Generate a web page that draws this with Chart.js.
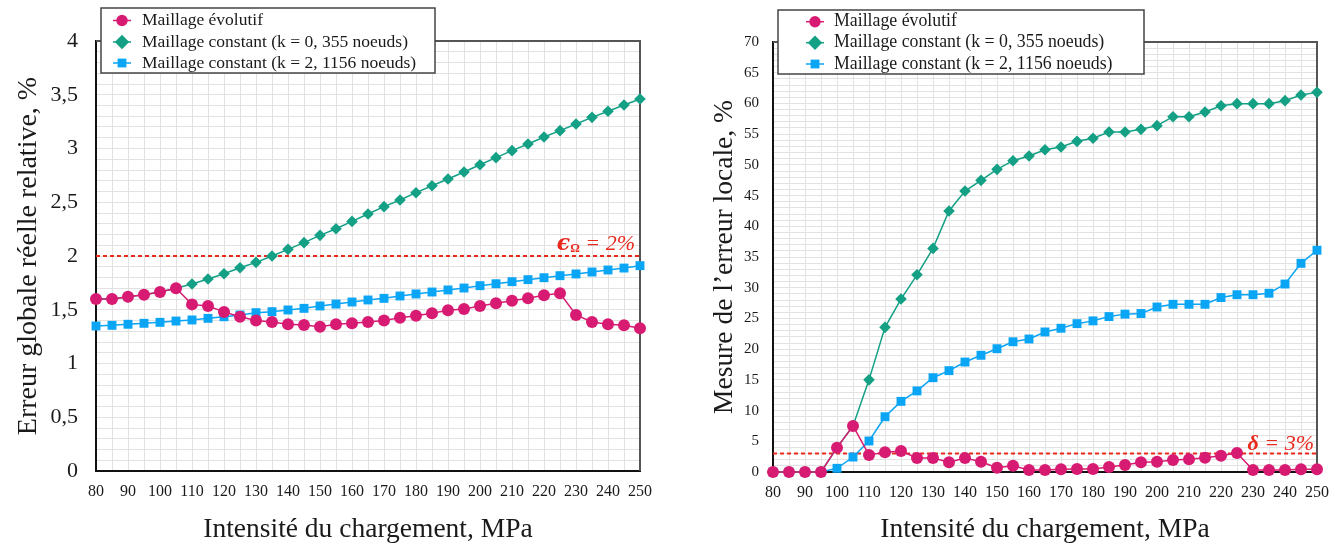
<!DOCTYPE html>
<html><head><meta charset="utf-8">
<script src="https://cdn.jsdelivr.net/npm/chart.js@4.4.1/dist/chart.umd.min.js"></script>
<style>
html,body{margin:0;padding:0;background:#fff;}
#wrap{position:relative;width:1341px;height:547px;overflow:hidden;}
canvas{position:absolute;top:0;}
</style></head><body>
<div id="wrap">
<canvas id="c1" width="670" height="547" style="left:0"></canvas>
<canvas id="c2" width="671" height="547" style="left:670px"></canvas>
</div>
<script>
// ---------- data ----------
const pressures = [80,85,90,95,100,105,110,115,120,125,130,135,140,145,150,155,160,165,170,175,180,185,190,195,200,205,210,215,220,225,230,235,240,245,250];

const seriesLabels = ['Maillage évolutif', 'Maillage constant (k = 0, 355 noeuds)', 'Maillage constant (k = 2, 1156 noeuds)'];

// left panel: erreur globale réelle relative (%)
const globalEvolutif = [1.60,1.60,1.62,1.64,1.665,1.70,1.55,1.535,1.48,1.435,1.40,1.385,1.365,1.358,1.342,1.365,1.374,1.386,1.40,1.426,1.445,1.467,1.495,1.507,1.535,1.56,1.584,1.606,1.634,1.653,1.451,1.386,1.365,1.355,1.327];
const globalK0 = [1.60,1.60,1.62,1.64,1.665,1.70,1.74,1.786,1.835,1.891,1.941,2.0,2.062,2.124,2.192,2.254,2.322,2.391,2.459,2.521,2.589,2.654,2.716,2.781,2.849,2.915,2.98,3.042,3.107,3.166,3.228,3.29,3.346,3.405,3.46];
const globalK2 = [1.349,1.355,1.365,1.374,1.383,1.395,1.405,1.42,1.435,1.451,1.473,1.482,1.498,1.513,1.535,1.553,1.572,1.591,1.606,1.628,1.647,1.665,1.684,1.702,1.724,1.742,1.761,1.78,1.798,1.817,1.833,1.851,1.87,1.888,1.91];

// right panel: mesure de l'erreur locale (%)
const localEvolutif = [0,0,0,0,3.96,7.49,2.77,3.2,3.42,2.28,2.28,1.58,2.28,1.68,0.7,1.0,0.33,0.33,0.43,0.49,0.49,0.81,1.14,1.57,1.68,1.95,2.06,2.33,2.66,3.09,0.33,0.33,0.33,0.43,0.43];
const localK0 = [0,0,0,0,3.96,7.49,15.0,23.55,28.16,32.1,36.4,42.5,45.74,47.48,49.27,50.68,51.44,52.47,52.9,53.83,54.32,55.35,55.35,55.78,56.38,57.84,57.84,58.6,59.63,59.96,59.96,59.96,60.45,61.37,61.8];
const localK2 = [0,0,0,0,0.6,2.44,5.05,9.0,11.5,13.2,15.35,16.5,17.9,19.0,20.07,21.2,21.65,22.8,23.4,24.15,24.6,25.3,25.7,25.8,26.86,27.3,27.3,27.3,28.4,28.86,28.86,29.1,30.6,33.97,36.1];

const globalThreshold = 2;   // epsilon_Omega = 2%
const localThreshold = 3;    // delta = 3%

const globalYRange = [0, 4];
const globalYGridStep = 0.1;
const globalYLabelStep = 0.5;
const localYRange = [0, 70];
const localYGridStep = 1;
const localYLabelStep = 5;
const xLabelStep = 10;

// ---------- style ----------
const SERIF = '"Liberation Serif", "Times New Roman", serif';
Chart.defaults.font.family = SERIF;
Chart.defaults.color = '#1a1a1a';
const PINK = '#d81b72', GREEN = '#13a085', BLUE = '#0aa5f5', RED = '#e8291c';

function makeRefPlugin(value, dx, dy, parts) {
  return {
    id: 'refLine',
    beforeDatasetsDraw(chart) {
      const ctx = chart.ctx, a = chart.chartArea, y = chart.scales.y;
      ctx.save();
      ctx.strokeStyle = '#555'; ctx.lineWidth = 2;
      ctx.beginPath(); ctx.moveTo(a.left, a.top); ctx.lineTo(a.right, a.top); ctx.lineTo(a.right, a.bottom); ctx.stroke();
      const yp = y.getPixelForValue(value);
      ctx.strokeStyle = RED; ctx.lineWidth = 2; ctx.setLineDash([4, 3]);
      ctx.beginPath(); ctx.moveTo(a.left, yp); ctx.lineTo(a.right, yp); ctx.stroke();
      ctx.setLineDash([]);
      ctx.fillStyle = RED; ctx.textBaseline = 'alphabetic'; ctx.textAlign = 'left';
      let total = 0;
      const widths = parts.map(p => { ctx.font = p.font; const w = ctx.measureText(p.text).width; total += w; return w; });
      let x = a.right - dx - total;
      const base = yp - dy;
      parts.forEach((p, i) => { ctx.font = p.font; ctx.fillText(p.text, x, base + (p.shift || 0)); x += widths[i]; });
      ctx.restore();
    }
  };
}

function makeLegendPlugin(o) {
  return {
    id: 'boxLegend',
    afterDraw(chart) {
      const ctx = chart.ctx;
      ctx.save();
      ctx.fillStyle = '#fff'; ctx.fillRect(o.x, o.y, o.w, o.h);
      ctx.strokeStyle = '#444'; ctx.lineWidth = 1.5; ctx.strokeRect(o.x, o.y, o.w, o.h);
      chart.data.datasets.forEach((ds, i) => {
        const cy = o.rows[i], cx = o.mx;
        ctx.strokeStyle = ds.borderColor; ctx.lineWidth = 1.5;
        ctx.beginPath(); ctx.moveTo(cx - 9, cy); ctx.lineTo(cx + 9, cy); ctx.stroke();
        ctx.fillStyle = ds.backgroundColor;
        ctx.beginPath();
        if (ds.pointStyle === 'circle') { ctx.arc(cx, cy, 5.7, 0, Math.PI * 2); }
        else if (ds.pointStyle === 'rectRot') { const r = 7.2; ctx.moveTo(cx, cy - r); ctx.lineTo(cx + r, cy); ctx.lineTo(cx, cy + r); ctx.lineTo(cx - r, cy); ctx.closePath(); }
        else { const s = 4.4; ctx.rect(cx - s, cy - s, 2 * s, 2 * s); }
        ctx.fill();
        ctx.fillStyle = '#1a1a1a'; ctx.font = o.font; ctx.textBaseline = 'middle'; ctx.textAlign = 'left';
        ctx.fillText(ds.label, o.tx, cy);
      });
      ctx.restore();
    }
  };
}

function fmt(v) { return String(v).replace('.', ','); }

function makeChart(canvasId, values, yRange, gridStep, labelStep, yTitle, L) {
  const styles = [
    {c: PINK, ps: 'circle', r: 6},
    {c: GREEN, ps: 'rectRot', r: 5.8},
    {c: BLUE, ps: 'rect', r: 6.3}
  ];
  const datasets = values.map((vals, i) => ({
    label: seriesLabels[i], data: vals,
    borderColor: styles[i].c, backgroundColor: styles[i].c,
    pointBackgroundColor: styles[i].c, pointBorderColor: styles[i].c, pointBorderWidth: 0,
    pointStyle: styles[i].ps, pointRadius: styles[i].r, pointHoverRadius: styles[i].r,
    borderWidth: 1.5, tension: 0, clip: false, fill: false
  }));
  return new Chart(document.getElementById(canvasId), {
    type: 'line',
    data: {labels: pressures, datasets},
    plugins: [makeRefPlugin(L.refValue, L.refDx, L.refDy, L.refParts), makeLegendPlugin(L.legend)],
    options: {
      responsive: false, maintainAspectRatio: false, animation: false, devicePixelRatio: 1,
      layout: {padding: {top: L.top, right: L.right, bottom: 0, left: 0}},
      plugins: {legend: {display: false}, tooltip: {enabled: false}},
      scales: {
        x: {
          type: 'category', offset: false,
          grid: {color: '#e2e2e2', lineWidth: 1, drawTicks: false, offset: false},
          border: {color: '#111', width: 2},
          ticks: {autoSkip: false, maxRotation: 0, minRotation: 0, padding: 11,
            font: {size: 16, family: SERIF}, color: '#1a1a1a',
            callback: function(v, i) { const p = pressures[i]; return p % xLabelStep === 0 ? String(p) : ''; }},
          title: {display: true, text: 'Intensité du chargement, MPa', font: {size: 27.5, family: SERIF}, color: '#1a1a1a', padding: {top: 0, bottom: 1}},
          afterFit(s) { s.height = L.xh; }
        },
        y: {
          type: 'linear', min: yRange[0], max: yRange[1],
          grid: {color: '#e2e2e2', lineWidth: 1, drawTicks: false},
          border: {color: '#111', width: 2},
          ticks: {stepSize: gridStep, maxTicksLimit: 500, autoSkip: false, padding: L.yPad,
            font: {size: L.yFont, family: SERIF}, color: '#1a1a1a',
            callback: function(v) { const q = v / labelStep; return Math.abs(q - Math.round(q)) < 1e-6 ? fmt(Math.round(q) * labelStep) : ''; }},
          title: {display: true, text: yTitle, font: {size: L.yTitleSize, family: SERIF}, color: '#1a1a1a', padding: {top: L.yTitlePad, bottom: 0}},
          afterFit(s) { s.width = L.yw; }
        }
      }
    }
  });
}

makeChart('c1', [globalEvolutif, globalK0, globalK2], globalYRange, globalYGridStep, globalYLabelStep,
  'Erreur globale réelle relative, %', {
    top: 41, right: 30, xh: 76, yw: 96, yPad: 18, yFont: 22, yTitlePad: 12, yTitleSize: 28,
    refValue: globalThreshold, refDx: 5, refDy: 6, refParts: [
      {text: 'ϵ', font: 'italic bold 22px "DejaVu Serif", serif'},
      {text: 'Ω', font: 'bold 12px "Liberation Serif", serif', shift: 2},
      {text: ' = 2%', font: 'italic 22px "Liberation Serif", serif'}
    ],
    legend: {x: 101, y: 8, w: 334, h: 65, mx: 122, tx: 142, rows: [20.5, 42, 63], font: '17.5px "Liberation Serif", serif'}
  });

makeChart('c2', [localEvolutif, localK0, localK2], localYRange, localYGridStep, localYLabelStep,
  'Mesure de l’erreur locale, %', {
    top: 42, right: 24, xh: 75, yw: 103, yPad: 14, yFont: 15, yTitlePad: 38, yTitleSize: 27.5,
    refValue: localThreshold, refDx: 3, refDy: 4, refParts: [
      {text: 'δ', font: 'italic bold 22px "Liberation Serif", serif'},
      {text: ' = 3%', font: 'italic 22px "Liberation Serif", serif'}
    ],
    legend: {x: 108, y: 10, w: 366, h: 64, mx: 145, tx: 164, rows: [21.7, 42.7, 64], font: '17.8px "Liberation Serif", serif'}
  });
</script>
</body></html>
